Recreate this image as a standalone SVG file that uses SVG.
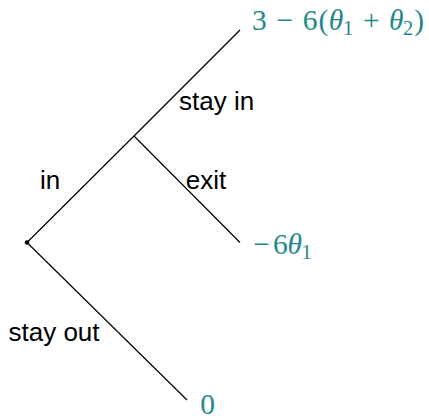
<svg xmlns="http://www.w3.org/2000/svg" width="429" height="416" viewBox="0 0 429 416">
<style>
.e{stroke:#000;stroke-width:1.2;fill:none}
.l{font-family:"Liberation Sans",Arial,sans-serif;font-size:26px;fill:#000}
.p{font-family:"Liberation Serif","Times New Roman",serif;font-size:29.5px;fill:#22898a;text-anchor:middle}
.i{font-style:italic}
.s{font-size:20.5px}
</style>
<rect width="429" height="416" fill="#fff"/>
<g id="connectors">
<line class="e" x1="27" y1="242.5" x2="134" y2="136"/>
<line class="e" x1="134" y1="136" x2="240" y2="30"/>
<line class="e" x1="134" y1="136" x2="240" y2="242.5"/>
<line class="e" x1="27" y1="242.5" x2="187" y2="400"/>
</g>
<g id="root"><circle cx="27" cy="242.5" r="2.3" fill="#000"/></g>
<g id="labels">
<text class="l" x="179" y="110">stay in</text>
<text class="l" x="40" y="189">in</text>
<text class="l" x="185.7" y="189">exit</text>
<text class="l" x="8.5" y="341">stay out</text>
</g>
<g id="payoff-top"><text class="p" y="30"><tspan x="259.4">3</tspan><tspan x="284.8">−</tspan><tspan x="310.2">6</tspan><tspan x="323.3">(</tspan><tspan x="336" class="i">θ</tspan><tspan x="348" class="s" dy="5">1</tspan><tspan x="371.2" dy="-5">+</tspan><tspan x="396.2" class="i">θ</tspan><tspan x="408.2" class="s" dy="5">2</tspan><tspan x="419.2" dy="-5">)</tspan></text></g>
<g id="payoff-exit"><text class="p" y="254"><tspan x="261.5">−</tspan><tspan x="280.4">6</tspan><tspan x="294.7" class="i">θ</tspan><tspan x="306.7" class="s" dy="5">1</tspan></text></g>
<g id="payoff-out"><text class="p" x="207.5" y="414">0</text></g>
</svg>
